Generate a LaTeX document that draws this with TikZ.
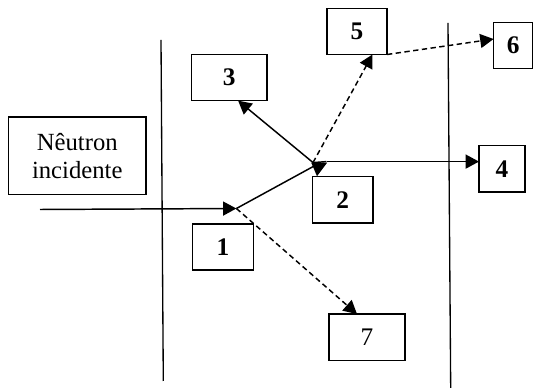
\documentclass[tikz,border=0pt]{standalone}
\usepackage{fontspec}
\setmainfont{Liberation Serif}
\usetikzlibrary{arrows.meta}
\tikzset{
  box/.style={draw, line width=1.1pt, inner sep=0pt, outer sep=0pt, font=\fontsize{19}{21}\selectfont\bfseries, align=center},
  conn/.style={line width=1.1pt},
  arr/.style={conn, -{Triangle[length=10pt,width=10.5pt]}},
  dsh/.style={dash pattern=on 4pt off 2.6pt},
  wall/.style={line width=1pt}
}
\begin{document}
\begin{tikzpicture}[x=0.75pt,y=-0.75pt]
\useasboundingbox (0,0) rectangle (533,388);
% walls
\draw[wall] (161,40) -- (163.3,381);
\draw[wall] (448,23) -- (450.7,388);
% boxes
\node[box, minimum width=103.1pt, minimum height=58.2pt, font=\fontsize{18.5}{21}\selectfont] (inc) at (77.25,155.8) {Nêutron\\incidente};
\node[box, minimum width=56.6pt, minimum height=34.7pt] (n3) at (229.2,77.5) {3};
\node[box, minimum width=45pt, minimum height=34.5pt] (n5) at (357,31.5) {5};
\node[box, minimum width=29.6pt, minimum height=34.5pt] (n6) at (513.3,45.7) {6};
\node[box, minimum width=34.5pt, minimum height=34.8pt] (n4) at (502,168.8) {4};
\node[box, minimum width=45.2pt, minimum height=34.9pt] (n2) at (342.7,199.8) {2};
\node[box, minimum width=45.8pt, minimum height=34.5pt] (n1) at (223,246.8) {1};
\node[box, minimum width=57pt, minimum height=34.9pt, font=\fontsize{19}{21}\selectfont] (n7) at (367,337.3) {7};
% interaction points
\coordinate (start) at (40,209.5);
\coordinate (A) at (236.4,208.5);
\coordinate (B) at (316,165);
\coordinate (Bd) at (313,162.6);
\coordinate (C) at (326.5,161.6);
% connectors
\draw[arr] (start) -- (A);
\draw[conn] (A) -- (B);
\draw[arr] (B) -- (n3.-69.5);
\draw[arr, dsh] (Bd) -- (n5.-56);
\draw[conn] (Bd) -- (C);
\draw[arr] (C) -- (C -| n4.west);
\draw[arr, dsh] (n5.south east) -- ([yshift=5pt]n6.west);
\draw[arr, dsh] (A) -- ([xshift=-7.5pt]n7.north);
\fill (311.2,162.6) -- (327.2,162.6) -- (317,176.2) -- cycle;
\end{tikzpicture}
\end{document}
